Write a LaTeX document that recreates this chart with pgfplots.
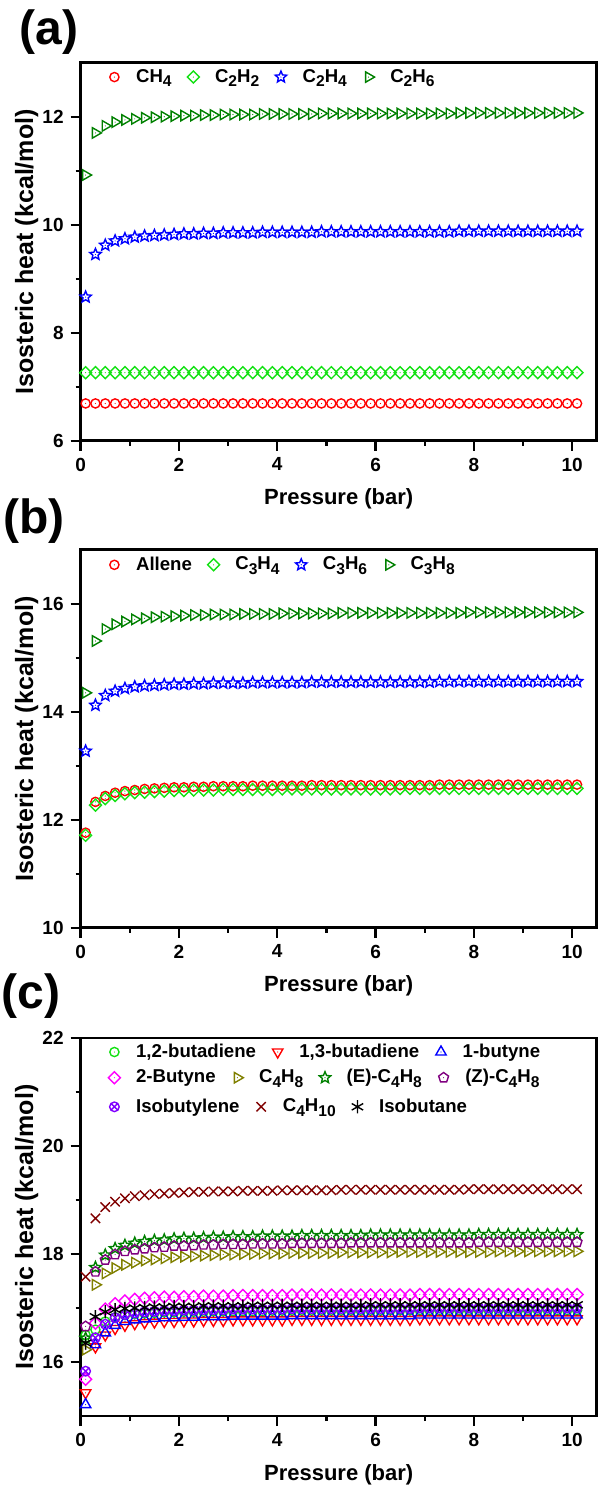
\documentclass[border=0pt]{standalone}
\usepackage{fontspec}
\setmainfont{Liberation Sans}
\usepackage{pgfplots}
\usepackage{pgfplotstable}
\pgfplotsset{compat=1.18}
\usetikzlibrary{plotmarks}

\definecolor{cRed}{RGB}{255,0,0}
\definecolor{cLime}{RGB}{20,225,20}
\definecolor{cBlue}{RGB}{0,0,255}
\definecolor{cDkGreen}{RGB}{0,128,0}
\definecolor{cMagenta}{RGB}{255,0,255}
\definecolor{cOlive}{RGB}{128,128,0}
\definecolor{cPurple}{RGB}{128,0,128}
\definecolor{cViolet}{RGB}{128,0,255}
\definecolor{cWine}{RGB}{128,0,0}

% big, low subscripts as in the Origin legend
\newcommand{\sub}[1]{\raisebox{-0.5ex}{\fontsize{7.8}{8}\selectfont #1}}

% Origin style open symbols with a centre dot
\pgfdeclareplotmark{dcircle}{\pgfpathcircle{\pgfpointorigin}{\pgfplotmarksize}\pgfusepathqstroke
  \pgfpathcircle{\pgfpointorigin}{0.3pt}\pgfusepathqfill}
\pgfdeclareplotmark{ddiamond}{\pgfpathmoveto{\pgfqpoint{0pt}{1.25\pgfplotmarksize}}
  \pgfpathlineto{\pgfqpoint{1.25\pgfplotmarksize}{0pt}}
  \pgfpathlineto{\pgfqpoint{0pt}{-1.25\pgfplotmarksize}}
  \pgfpathlineto{\pgfqpoint{-1.25\pgfplotmarksize}{0pt}}\pgfpathclose\pgfusepathqstroke
  \pgfpathcircle{\pgfpointorigin}{0.3pt}\pgfusepathqfill}
\pgfdeclareplotmark{dtri}{\pgfuseplotmark{triangle}
  \pgfpathcircle{\pgfpointorigin}{0.3pt}\pgfusepathqfill}
\pgfdeclareplotmark{dpent}{\pgfuseplotmark{pentagon}
  \pgfpathcircle{\pgfpointorigin}{0.3pt}\pgfusepathqfill}
\pgfdeclareplotmark{dstar}{%
  \pgfpathmoveto{\pgfpointpolar{90}{\pgfplotmarksize}}
  \pgfpathlineto{\pgfpointpolar{126}{0.45\pgfplotmarksize}}
  \pgfpathlineto{\pgfpointpolar{162}{\pgfplotmarksize}}
  \pgfpathlineto{\pgfpointpolar{198}{0.45\pgfplotmarksize}}
  \pgfpathlineto{\pgfpointpolar{234}{\pgfplotmarksize}}
  \pgfpathlineto{\pgfpointpolar{270}{0.45\pgfplotmarksize}}
  \pgfpathlineto{\pgfpointpolar{306}{\pgfplotmarksize}}
  \pgfpathlineto{\pgfpointpolar{342}{0.45\pgfplotmarksize}}
  \pgfpathlineto{\pgfpointpolar{18}{\pgfplotmarksize}}
  \pgfpathlineto{\pgfpointpolar{54}{0.45\pgfplotmarksize}}
  \pgfpathclose\pgfusepathqstroke
  \pgfpathcircle{\pgfpointorigin}{0.3pt}\pgfusepathqfill}

\pgfplotstableread{
x CH4 C2H2 C2H4 C2H6
0.1 6.69 7.26 8.66 10.92
0.3 6.69 7.26 9.45 11.70
0.5 6.69 7.26 9.62 11.83
0.7 6.69 7.26 9.70 11.90
0.9 6.69 7.26 9.74 11.94
1.1 6.69 7.26 9.77 11.96
1.3 6.69 7.26 9.79 11.98
1.5 6.69 7.26 9.80 11.99
1.7 6.69 7.26 9.81 12.00
1.9 6.69 7.26 9.82 12.01
2.1 6.69 7.26 9.83 12.02
2.3 6.69 7.26 9.83 12.02
2.5 6.69 7.26 9.84 12.03
2.7 6.69 7.26 9.84 12.03
2.9 6.69 7.26 9.85 12.04
3.1 6.69 7.26 9.85 12.04
3.3 6.69 7.26 9.85 12.04
3.5 6.69 7.26 9.85 12.04
3.7 6.69 7.26 9.86 12.05
3.9 6.69 7.26 9.86 12.05
4.1 6.69 7.26 9.86 12.05
4.3 6.69 7.26 9.86 12.05
4.5 6.69 7.26 9.86 12.05
4.7 6.69 7.26 9.86 12.05
4.9 6.69 7.26 9.87 12.06
5.1 6.69 7.26 9.87 12.06
5.3 6.69 7.26 9.87 12.06
5.5 6.69 7.26 9.87 12.06
5.7 6.69 7.26 9.87 12.06
5.9 6.69 7.26 9.87 12.06
6.1 6.69 7.26 9.87 12.06
6.3 6.69 7.26 9.87 12.06
6.5 6.69 7.26 9.87 12.06
6.7 6.69 7.26 9.87 12.06
6.9 6.69 7.26 9.87 12.06
7.1 6.69 7.26 9.87 12.06
7.3 6.69 7.26 9.87 12.06
7.5 6.69 7.26 9.87 12.06
7.7 6.69 7.26 9.88 12.07
7.9 6.69 7.26 9.88 12.07
8.1 6.69 7.26 9.88 12.07
8.3 6.69 7.26 9.88 12.07
8.5 6.69 7.26 9.88 12.07
8.7 6.69 7.26 9.88 12.07
8.9 6.69 7.26 9.88 12.07
9.1 6.69 7.26 9.88 12.07
9.3 6.69 7.26 9.88 12.07
9.5 6.69 7.26 9.88 12.07
9.7 6.69 7.26 9.88 12.07
9.9 6.69 7.26 9.88 12.07
10.1 6.69 7.26 9.88 12.07
}\tabA

\pgfplotstableread{
x Allene C3H4 C3H6 C3H8
0.1 11.76 11.71 13.27 14.35
0.3 12.33 12.27 14.12 15.31
0.5 12.44 12.39 14.30 15.53
0.7 12.50 12.45 14.38 15.62
0.9 12.53 12.48 14.43 15.67
1.1 12.55 12.50 14.46 15.71
1.3 12.57 12.51 14.48 15.73
1.5 12.58 12.52 14.49 15.75
1.7 12.59 12.53 14.50 15.76
1.9 12.60 12.54 14.51 15.77
2.1 12.60 12.54 14.51 15.78
2.3 12.61 12.55 14.52 15.79
2.5 12.61 12.55 14.52 15.79
2.7 12.62 12.55 14.53 15.80
2.9 12.62 12.56 14.53 15.80
3.1 12.62 12.56 14.53 15.80
3.3 12.62 12.56 14.53 15.81
3.5 12.63 12.56 14.54 15.81
3.7 12.63 12.56 14.54 15.81
3.9 12.63 12.56 14.54 15.81
4.1 12.63 12.57 14.54 15.82
4.3 12.63 12.57 14.54 15.82
4.5 12.63 12.57 14.54 15.82
4.7 12.64 12.57 14.55 15.82
4.9 12.64 12.57 14.55 15.82
5.1 12.64 12.57 14.55 15.82
5.3 12.64 12.57 14.55 15.83
5.5 12.64 12.57 14.55 15.83
5.7 12.64 12.57 14.55 15.83
5.9 12.64 12.57 14.55 15.83
6.1 12.64 12.57 14.55 15.83
6.3 12.64 12.57 14.55 15.83
6.5 12.64 12.58 14.55 15.83
6.7 12.64 12.58 14.55 15.83
6.9 12.64 12.58 14.55 15.83
7.1 12.64 12.58 14.55 15.83
7.3 12.65 12.58 14.56 15.83
7.5 12.65 12.58 14.56 15.83
7.7 12.65 12.58 14.56 15.83
7.9 12.65 12.58 14.56 15.84
8.1 12.65 12.58 14.56 15.84
8.3 12.65 12.58 14.56 15.84
8.5 12.65 12.58 14.56 15.84
8.7 12.65 12.58 14.56 15.84
8.9 12.65 12.58 14.56 15.84
9.1 12.65 12.58 14.56 15.84
9.3 12.65 12.58 14.56 15.84
9.5 12.65 12.58 14.56 15.84
9.7 12.65 12.58 14.56 15.84
9.9 12.65 12.58 14.56 15.84
10.1 12.65 12.58 14.56 15.84
}\tabB

% a 1,2-butadiene  b 1,3-butadiene  c 1-butyne  d 2-butyne  e C4H8
% f (E)-C4H8  g (Z)-C4H8  h isobutylene  i C4H10  j isobutane
\pgfplotstableread{
x a b c d e f g h i j
0.1 16.50 15.43 15.21 15.68 16.23 16.44 16.66 15.83 17.58 16.35
0.3 16.60 16.28 16.32 16.72 17.43 17.75 17.67 16.45 18.66 16.84
0.5 16.75 16.50 16.54 16.98 17.64 17.98 17.89 16.70 18.87 16.93
0.7 16.83 16.62 16.68 17.08 17.74 18.10 17.99 16.82 18.97 16.97
0.9 16.87 16.68 16.75 17.13 17.80 18.16 18.05 16.88 19.03 16.99
1.1 16.89 16.71 16.78 17.16 17.84 18.20 18.08 16.91 19.07 17.00
1.3 16.90 16.73 16.80 17.18 17.88 18.23 18.10 16.93 19.09 17.01
1.5 16.91 16.74 16.81 17.19 17.90 18.25 18.12 16.94 19.11 17.02
1.7 16.92 16.75 16.82 17.20 17.92 18.26 18.13 16.95 19.12 17.02
1.9 16.92 16.75 16.82 17.20 17.94 18.28 18.15 16.95 19.13 17.03
2.1 16.93 16.76 16.83 17.21 17.95 18.29 18.15 16.96 19.14 17.03
2.3 16.93 16.76 16.83 17.21 17.96 18.29 18.16 16.96 19.15 17.03
2.5 16.93 16.77 16.84 17.22 17.97 18.30 18.17 16.97 19.15 17.04
2.7 16.94 16.77 16.84 17.22 17.98 18.31 18.17 16.97 19.16 17.04
2.9 16.94 16.77 16.84 17.22 17.99 18.31 18.18 16.97 19.16 17.04
3.1 16.94 16.78 16.85 17.23 17.99 18.32 18.18 16.98 19.16 17.04
3.3 16.94 16.78 16.85 17.23 18.00 18.32 18.18 16.98 19.17 17.04
3.5 16.94 16.78 16.85 17.23 18.00 18.32 18.19 16.98 19.17 17.05
3.7 16.94 16.78 16.85 17.23 18.01 18.33 18.19 16.98 19.17 17.05
3.9 16.95 16.78 16.85 17.23 18.01 18.33 18.19 16.98 19.17 17.05
4.1 16.95 16.78 16.85 17.23 18.01 18.33 18.19 16.98 19.18 17.05
4.3 16.95 16.79 16.86 17.24 18.02 18.33 18.20 16.99 19.18 17.05
4.5 16.95 16.79 16.86 17.24 18.02 18.34 18.20 16.99 19.18 17.05
4.7 16.95 16.79 16.86 17.24 18.02 18.34 18.20 16.99 19.18 17.05
4.9 16.95 16.79 16.86 17.24 18.02 18.34 18.20 16.99 19.18 17.05
5.1 16.95 16.79 16.86 17.24 18.02 18.34 18.20 16.99 19.18 17.05
5.3 16.95 16.79 16.86 17.24 18.03 18.34 18.20 16.99 19.19 17.05
5.5 16.95 16.79 16.86 17.24 18.03 18.34 18.21 16.99 19.19 17.05
5.7 16.95 16.79 16.86 17.24 18.03 18.34 18.21 16.99 19.19 17.05
5.9 16.95 16.79 16.86 17.24 18.03 18.35 18.21 16.99 19.19 17.06
6.1 16.95 16.79 16.86 17.24 18.03 18.35 18.21 16.99 19.19 17.06
6.3 16.96 16.79 16.86 17.24 18.03 18.35 18.21 16.99 19.19 17.06
6.5 16.96 16.79 16.86 17.24 18.04 18.35 18.21 16.99 19.19 17.06
6.7 16.96 16.79 16.86 17.24 18.04 18.35 18.21 16.99 19.19 17.06
6.9 16.96 16.80 16.87 17.25 18.04 18.35 18.21 17.00 19.19 17.06
7.1 16.96 16.80 16.87 17.25 18.04 18.35 18.21 17.00 19.19 17.06
7.3 16.96 16.80 16.87 17.25 18.04 18.35 18.21 17.00 19.19 17.06
7.5 16.96 16.80 16.87 17.25 18.04 18.35 18.21 17.00 19.19 17.06
7.7 16.96 16.80 16.87 17.25 18.04 18.35 18.21 17.00 19.19 17.06
7.9 16.96 16.80 16.87 17.25 18.04 18.35 18.21 17.00 19.20 17.06
8.1 16.96 16.80 16.87 17.25 18.04 18.36 18.22 17.00 19.20 17.06
8.3 16.96 16.80 16.87 17.25 18.04 18.36 18.22 17.00 19.20 17.06
8.5 16.96 16.80 16.87 17.25 18.05 18.36 18.22 17.00 19.20 17.06
8.7 16.96 16.80 16.87 17.25 18.05 18.36 18.22 17.00 19.20 17.06
8.9 16.96 16.80 16.87 17.25 18.05 18.36 18.22 17.00 19.20 17.06
9.1 16.96 16.80 16.87 17.25 18.05 18.36 18.22 17.00 19.20 17.06
9.3 16.96 16.80 16.87 17.25 18.05 18.36 18.22 17.00 19.20 17.06
9.5 16.96 16.80 16.87 17.25 18.05 18.36 18.22 17.00 19.20 17.06
9.7 16.96 16.80 16.87 17.25 18.05 18.36 18.22 17.00 19.20 17.06
9.9 16.96 16.80 16.87 17.25 18.05 18.36 18.22 17.00 19.20 17.06
10.1 16.96 16.80 16.87 17.25 18.05 18.36 18.22 17.00 19.20 17.06
}\tabC

\pgfplotsset{
  base/.style={
    scale only axis, width=258pt, height=189pt,
    xmin=0, xmax=10.5, clip=false,
    legend columns=-1,
    legend style={draw=none, fill=none, inner sep=0pt, anchor=west,
      font=\bfseries\fontsize{9.3}{11}\selectfont,
      nodes={inner sep=1pt},
      /tikz/every odd column/.append style={column sep=3pt},
      /tikz/every even column/.append style={column sep=3pt}},
    legend image code/.code={\path (0pt,0pt) (13pt,0pt);
      \draw[mark repeat=2,mark phase=2,##1] plot coordinates {(0pt,0pt) (6.5pt,0pt) (13pt,0pt)};},
  },
  panel/.style={base,
    xtick={0,2,...,10}, minor x tick num=1, minor y tick num=1,
    tick align=outside, tick pos=left,
    major tick length=5pt, minor tick length=2.5pt,
    axis line style={line width=1.4pt},
    tick style={black, line width=1.2pt},
    tick label style={font=\bfseries\fontsize{9.5}{11}\selectfont},
    /pgf/number format/assume math mode=true,
    xlabel={Pressure (bar)}, ylabel={Isosteric heat (kcal/mol)},
    xlabel style={at={(axis description cs:0.5,-0.1693)}, anchor=base,
      font=\bfseries\fontsize{11}{13}\selectfont},
    ylabel style={at={(axis description cs:-0.0924,0.5)}, anchor=base,
      font=\bfseries\fontsize{12.5}{14}\selectfont},
  },
  mk/.style={only marks, line width=0.7pt},
}

\begin{document}
\begin{tikzpicture}
\useasboundingbox (0pt,0pt) rectangle (299pt,-743.5pt);

% (a)
\begin{axis}[panel, at={(40.35pt,-220.35pt)}, anchor=south west,
  ymin=6, ymax=13, ytick={6,8,10,12},
  legend style={at={(axis description cs:0.038,0.962)}}]
\addplot[mk, cRed, mark=dcircle, mark size=2.3pt] table[x=x, y=CH4] {\tabA};
\addlegendentry{CH\sub{4}}
\addplot[mk, cLime, mark=ddiamond, mark size=2.4pt] table[x=x, y=C2H2] {\tabA};
\addlegendentry{C\sub{2}H\sub{2}}
\addplot[mk, cBlue, mark=dstar, mark size=3pt] table[x=x, y=C2H4] {\tabA};
\addlegendentry{C\sub{2}H\sub{4}}
\addplot[mk, cDkGreen, mark=dtri, mark size=3pt, mark options={rotate=-90}] table[x=x, y=C2H6] {\tabA};
\addlegendentry{C\sub{2}H\sub{6}}
\end{axis}

% (b)
\begin{axis}[panel, at={(40.35pt,-463.85pt)}, anchor=south west,
  ymin=10, ymax=17, ytick={10,12,14,16},
  legend style={at={(axis description cs:0.038,0.96)}}]
\addplot[mk, cRed, mark=dcircle, mark size=2.3pt] table[x=x, y=Allene] {\tabB};
\addlegendentry{Allene}
\addplot[mk, cLime, mark=ddiamond, mark size=2.4pt] table[x=x, y=C3H4] {\tabB};
\addlegendentry{C\sub{3}H\sub{4}}
\addplot[mk, cBlue, mark=dstar, mark size=3pt] table[x=x, y=C3H6] {\tabB};
\addlegendentry{C\sub{3}H\sub{6}}
\addplot[mk, cDkGreen, mark=dtri, mark size=3pt, mark options={rotate=-90}] table[x=x, y=C3H8] {\tabB};
\addlegendentry{C\sub{3}H\sub{8}}
\end{axis}

% (c)
\begin{axis}[panel, at={(40.35pt,-708pt)}, anchor=south west,
  ymin=15, ymax=22, ytick={16,18,20,22},
  legend style={at={(axis description cs:0.038,0.963)}}]
\addplot[mk, cLime, mark=dcircle, mark size=2.3pt] table[x=x, y=a] {\tabC};
\addlegendentry{1,2-butadiene}
\addplot[mk, cRed, mark=dtri, mark size=3pt, mark options={rotate=180}] table[x=x, y=b] {\tabC};
\addlegendentry{1,3-butadiene}
\addplot[mk, cBlue, mark=dtri, mark size=3pt] table[x=x, y=c] {\tabC};
\addlegendentry{1-butyne}
\addplot[mk, cMagenta, mark=ddiamond, mark size=2.4pt, forget plot] table[x=x, y=d] {\tabC};
\addplot[mk, cOlive, mark=dtri, mark size=3pt, mark options={rotate=-90}, forget plot] table[x=x, y=e] {\tabC};
\addplot[mk, cDkGreen, mark=dstar, mark size=3pt, forget plot] table[x=x, y=f] {\tabC};
\addplot[mk, cPurple, mark=dpent, mark size=2.6pt, forget plot] table[x=x, y=g] {\tabC};
\addplot[mk, cViolet, mark=otimes, mark size=2.4pt, forget plot] table[x=x, y=h] {\tabC};
\addplot[mk, cWine, mark=x, mark size=3.3pt, forget plot] table[x=x, y=i] {\tabC};
\addplot[mk, black, mark=asterisk, mark size=3.3pt, forget plot] table[x=x, y=j] {\tabC};
\end{axis}

% second and third legend rows of (c)
\begin{axis}[base, hide axis, at={(40.35pt,-708pt)}, anchor=south west,
  ymin=15, ymax=22,
  legend style={at={(axis description cs:0.038,0.895)}}]
\addlegendimage{mk, cMagenta, mark=ddiamond, mark size=2.4pt}
\addlegendentry{2-Butyne}
\addlegendimage{mk, cOlive, mark=dtri, mark size=3pt, mark options={rotate=-90}}
\addlegendentry{C\sub{4}H\sub{8}}
\addlegendimage{mk, cDkGreen, mark=dstar, mark size=3pt}
\addlegendentry{(E)-C\sub{4}H\sub{8}}
\addlegendimage{mk, cPurple, mark=dpent, mark size=2.6pt}
\addlegendentry{(Z)-C\sub{4}H\sub{8}}
\end{axis}
\begin{axis}[base, hide axis, at={(40.35pt,-708pt)}, anchor=south west,
  ymin=15, ymax=22,
  legend style={at={(axis description cs:0.038,0.818)}}]
\addlegendimage{mk, cViolet, mark=otimes, mark size=2.4pt}
\addlegendentry{Isobutylene}
\addlegendimage{mk, cWine, mark=x, mark size=3.3pt}
\addlegendentry{C\sub{4}H\sub{10}}
\addlegendimage{mk, black, mark=asterisk, mark size=3.3pt}
\addlegendentry{Isobutane}
\end{axis}

\node[anchor=base east, inner sep=0pt, font=\bfseries\fontsize{24}{28}\selectfont] at (39.5pt,-22.5pt) {(a)};
\node[anchor=base east, inner sep=0pt, font=\bfseries\fontsize{24}{28}\selectfont] at (32.5pt,-266.5pt) {(b)};
\node[anchor=base east, inner sep=0pt, font=\bfseries\fontsize{24}{28}\selectfont] at (30.5pt,-504pt) {(c)};
\end{tikzpicture}
\end{document}
